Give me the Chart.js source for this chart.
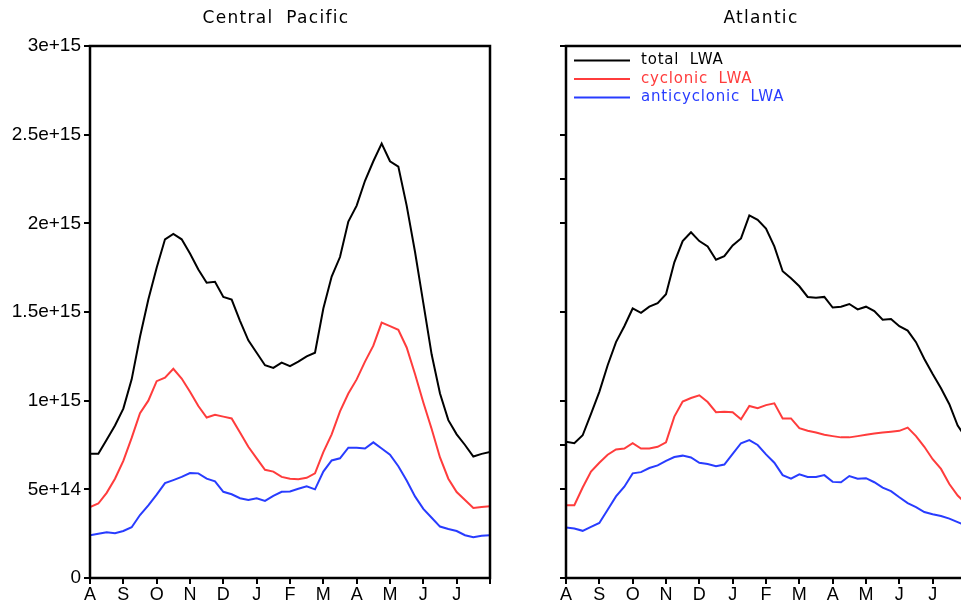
<!DOCTYPE html>
<html>
<head>
<meta charset="utf-8">
<title>LWA seasonal cycle</title>
<script src="https://cdn.jsdelivr.net/npm/chart.js@4.4.1/dist/chart.umd.min.js"></script>
<style>
  html, body { margin: 0; padding: 0; background: #fff; overflow: hidden; }
  body { width: 961px; height: 607px; position: relative; }
  .panel { position: absolute; top: 0; width: 500px; height: 607px; }
  #left { left: 0; }
  #right { left: 476px; }
</style>
</head>
<body>
<div class="panel" id="left"><canvas id="cpChart" width="500" height="607"></canvas></div>
<div class="panel" id="right"><canvas id="atChart" width="500" height="607"></canvas></div>
<script>
// x axis: one year, Aug -> Jul, values read every quarter month
var monthLabels = ['A', 'S', 'O', 'N', 'D', 'J', 'F', 'M', 'A', 'M', 'J', 'J'];
var stepsPerMonth = 4;

// y ticks
var yTicksLeft = [0, 5e14, 1e15, 1.5e15, 2e15, 2.5e15, 3e15];
var yLabelsLeft = ['0', '5e+14', '1e+15', '1.5e+15', '2e+15', '2.5e+15', '3e+15'];
var yTicksRight = [0, 5e14, 7.5e14, 1e15, 1.5e15, 2e15, 2.25e15, 2.5e15, 3e15];

// LWA in units of 1e14
var cpTotal = [7.0, 7.0, 7.8, 8.6, 9.55, 11.2, 13.6, 15.7, 17.5, 19.1,
  19.4, 19.1, 18.3, 17.4, 16.65, 16.7, 15.85, 15.7, 14.5, 13.4,
  12.7, 12.0, 11.85, 12.15, 11.95, 12.2, 12.5, 12.7, 15.2, 17.0,
  18.1, 20.1, 21.0, 22.4, 23.5, 24.5, 23.5, 23.2, 21.0, 18.4,
  15.5, 12.6, 10.4, 8.9, 8.1, 7.5, 6.85, 7.0, 7.1];
var cpCyclonic = [4.0, 4.2, 4.8, 5.6, 6.6, 7.9, 9.3, 10.0, 11.1, 11.3,
  11.8, 11.25, 10.5, 9.7, 9.05, 9.2, 9.1, 9.0, 8.2, 7.4,
  6.75, 6.1, 6.0, 5.7, 5.6, 5.57, 5.65, 5.9, 7.1, 8.1,
  9.4, 10.4, 11.2, 12.2, 13.1, 14.4, 14.2, 14.0, 13.0, 11.5,
  9.9, 8.4, 6.8, 5.6, 4.85, 4.4, 3.95, 4.0, 4.05];
var cpAnticyclonic = [2.41, 2.5, 2.58, 2.52, 2.65, 2.86, 3.55, 4.1, 4.7, 5.35,
  5.52, 5.7, 5.92, 5.9, 5.6, 5.45, 4.86, 4.72, 4.5, 4.4,
  4.49, 4.35, 4.63, 4.86, 4.88, 5.03, 5.17, 5.0, 6.0, 6.63,
  6.75, 7.35, 7.35, 7.3, 7.65, 7.3, 6.95, 6.3, 5.5, 4.6,
  3.9, 3.4, 2.9, 2.76, 2.65, 2.41, 2.3, 2.38, 2.41];

var atTotal = [7.68, 7.6, 8.05, 9.25, 10.5, 12.0, 13.3, 14.2, 15.2, 14.95,
  15.3, 15.5, 16.0, 17.8, 19.0, 19.5, 19.0, 18.7, 17.95, 18.15,
  18.75, 19.15, 20.45, 20.2, 19.7, 18.7, 17.3, 16.9, 16.45, 15.85,
  15.8, 15.85, 15.25, 15.3, 15.45, 15.15, 15.3, 15.05, 14.57, 14.6,
  14.2, 13.95, 13.3, 12.35, 11.5, 10.7, 9.8, 8.6, 7.9];
var atCyclonic = [4.1, 4.1, 5.1, 6.0, 6.5, 6.95, 7.25, 7.3, 7.6, 7.3,
  7.3, 7.4, 7.65, 9.1, 9.95, 10.15, 10.3, 9.92, 9.35, 9.38,
  9.35, 8.95, 9.7, 9.57, 9.75, 9.85, 9.0, 9.0, 8.45, 8.3,
  8.2, 8.08, 8.0, 7.93, 7.93, 8.0, 8.08, 8.15, 8.2, 8.25,
  8.3, 8.48, 8.0, 7.4, 6.7, 6.15, 5.3, 4.65, 4.2];
var atAnticyclonic = [2.85, 2.79, 2.66, 2.88, 3.1, 3.85, 4.6, 5.15, 5.9, 5.97,
  6.2, 6.35, 6.6, 6.82, 6.9, 6.8, 6.5, 6.43, 6.3, 6.4,
  7.0, 7.6, 7.78, 7.5, 6.97, 6.5, 5.8, 5.6, 5.85, 5.7,
  5.7, 5.8, 5.42, 5.4, 5.75, 5.6, 5.63, 5.4, 5.1, 4.9,
  4.55, 4.22, 4.0, 3.72, 3.6, 3.5, 3.35, 3.15, 2.95];

var seriesNames = ['total LWA', 'cyclonic LWA', 'anticyclonic LWA'];
var seriesColors = ['#000000', '#ff3c3c', '#283cff'];

Chart.defaults.font.family = '"DejaVu Sans", sans-serif';
Chart.defaults.color = '#000';

var tickFont = '"Liberation Sans", Arial, sans-serif';

function toPoints(arr) {
  return arr.map(function(v, i) {
    return { x: i / stepsPerMonth, y: v * 1e14 };
  });
}

function makeDatasets(total, cyc, anti) {
  return [total, cyc, anti].map(function(arr, i) {
    return {
      label: seriesNames[i],
      data: toPoints(arr),
      borderColor: seriesColors[i],
      borderWidth: 2,
      pointRadius: 0,
      fill: false,
      tension: 0
    };
  });
}

// box round the plot area
var framePlugin = {
  id: 'frame',
  afterDatasetsDraw: function(chart) {
    var a = chart.chartArea, ctx = chart.ctx;
    ctx.save();
    ctx.strokeStyle = '#000';
    ctx.lineWidth = 2.5;
    ctx.strokeRect(a.left, a.top, a.right - a.left, a.bottom - a.top);
    ctx.restore();
  }
};

// panel title, spaced out a bit like the original
var panelTitlePlugin = {
  id: 'panelTitle',
  afterDraw: function(chart, args, opts) {
    if (!opts.text) return;
    var ctx = chart.ctx;
    ctx.save();
    ctx.font = '17px "DejaVu Sans"';
    ctx.letterSpacing = '1.3px';
    ctx.wordSpacing = '6px';
    ctx.fillStyle = '#000';
    ctx.textAlign = 'center';
    ctx.textBaseline = 'middle';
    ctx.fillText(opts.text, opts.x, opts.y);
    ctx.restore();
  }
};

// line legend inside the plot, top left
var lineLegendPlugin = {
  id: 'lineLegend',
  afterDraw: function(chart, args, opts) {
    if (!opts.show) return;
    var a = chart.chartArea, ctx = chart.ctx;
    ctx.save();
    ctx.font = '15px "DejaVu Sans"';
    ctx.letterSpacing = '0.8px';
    ctx.wordSpacing = '5px';
    ctx.textBaseline = 'middle';
    chart.data.datasets.forEach(function(ds, i) {
      var y = a.top + 14.5 + i * 18.5;
      ctx.strokeStyle = ds.borderColor;
      ctx.lineWidth = 2;
      ctx.beginPath();
      ctx.moveTo(a.left + 8, y);
      ctx.lineTo(a.left + 64, y);
      ctx.stroke();
      ctx.fillStyle = ds.borderColor;
      ctx.fillText(ds.label, a.left + 75, y);
    });
    ctx.restore();
  }
};

function makeChart(canvasId, datasets, yTicks, yLabels, title, titleX, showLegend) {
  var ctx = document.getElementById(canvasId).getContext('2d');
  return new Chart(ctx, {
    type: 'line',
    data: { datasets: datasets },
    options: {
      responsive: false,
      animation: false,
      devicePixelRatio: 1,
      layout: { padding: { top: 46, right: 10, left: 0, bottom: 0 } },
      plugins: {
        legend: { display: false },
        tooltip: { enabled: false },
        panelTitle: { text: title, x: titleX, y: 19 },
        lineLegend: { show: showLegend }
      },
      scales: {
        x: {
          type: 'linear',
          min: 0,
          max: 12,
          grid: { drawOnChartArea: false, tickLength: 6, color: '#000', lineWidth: 2 },
          border: { display: false },
          ticks: {
            stepSize: 1,
            autoSkip: false,
            maxRotation: 0,
            padding: 0,
            font: { family: tickFont, size: 18 },
            color: '#000',
            callback: function(v) { return monthLabels[v] || ''; }
          },
          afterFit: function(s) { s.height = 29; }
        },
        y: {
          type: 'linear',
          min: 0,
          max: 3e15,
          grid: { drawOnChartArea: false, tickLength: 6, color: '#000', lineWidth: 2 },
          border: { display: false },
          afterBuildTicks: function(s) {
            s.ticks = yTicks.map(function(v) { return { value: v }; });
          },
          ticks: {
            padding: 3,
            font: { family: tickFont, size: 19 },
            color: '#000',
            callback: function(v, i) { return yLabels ? yLabels[i] : ''; }
          },
          afterFit: function(s) { s.width = 90; }
        }
      }
    },
    plugins: [framePlugin, panelTitlePlugin, lineLegendPlugin]
  });
}

var cpChart = makeChart('cpChart',
  makeDatasets(cpTotal, cpCyclonic, cpAnticyclonic),
  yTicksLeft, yLabelsLeft, 'Central Pacific', 276, false);

var atChart = makeChart('atChart',
  makeDatasets(atTotal, atCyclonic, atAnticyclonic),
  yTicksRight, null, 'Atlantic', 285, true);
</script>
</body>
</html>
